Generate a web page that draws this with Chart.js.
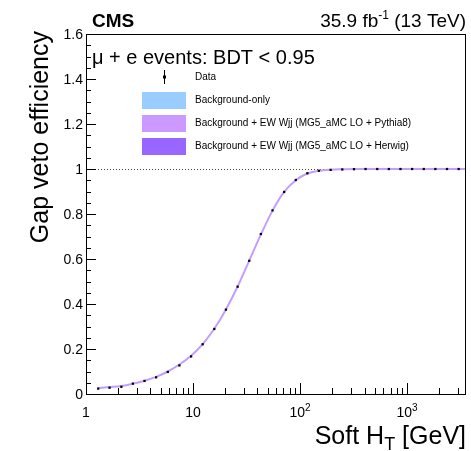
<!DOCTYPE html>
<html>
<head>
<meta charset="utf-8">
<script src="https://cdn.jsdelivr.net/npm/chart.js@4.4.1/dist/chart.umd.min.js"></script>
<style>
  html, body { margin: 0; padding: 0; background: #fff; }
  #chart { display: block; }
</style>
</head>
<body>
<canvas id="chart" width="471" height="451"></canvas>
<script>
// soft HT bin centres [GeV]
var softHT = [1.3, 1.66, 2.14, 2.74, 3.52, 4.52, 5.81, 7.46, 9.59, 12.3, 15.8, 20.3, 26.1, 33.5, 43.0, 55.3,
              71.0, 91.2, 117, 150, 193, 248, 319, 409, 526, 675, 867, 1114, 1431, 1837, 2360, 3031];
// measured gap veto efficiency
var dataEff = [0.024, 0.028, 0.032, 0.046, 0.058, 0.074, 0.098, 0.127, 0.167, 0.221, 0.289, 0.375, 0.477, 0.592, 0.711, 0.816,
               0.898, 0.951, 0.981, 0.992, 0.996, 0.998, 0.999, 1.0, 1.0, 1.0, 1.0, 1.0, 1.0, 1.0, 1.0, 1.0];
// background + EW Wjj prediction (curve)
var modelHT = [1.3, 1.66, 2.14, 2.74, 3.52, 4.52, 5.81, 7.46, 9.59, 12.3, 15.8, 20.3, 26.1, 33.5, 43.0, 55.3,
               71.0, 91.2, 117, 150, 193, 248, 319, 409, 526, 675, 867, 1114, 1431, 1837, 2360, 3031, 3550];
var modelEff = [0.027, 0.031, 0.036, 0.046, 0.059, 0.076, 0.100, 0.131, 0.170, 0.222, 0.290, 0.376, 0.478, 0.593, 0.708, 0.815,
                0.898, 0.950, 0.980, 0.992, 0.997, 0.999, 1.0, 1.0, 1.0, 1.0, 1.0, 1.0, 1.0, 1.0, 1.0, 1.0, 1.0];

var yTickLabels = ['0', '0.2', '0.4', '0.6', '0.8', '1', '1.2', '1.4', '1.6'];
var xTickLabels = [['1', ''], ['10', ''], ['10', '2'], ['10', '3']];
var legendLabels = ['Background-only', 'Background + EW Wjj (MG5_aMC LO + Pythia8)', 'Background + EW Wjj (MG5_aMC LO + Herwig)'];
var legendColours = ['#99ccff', '#cc99ff', '#9966ff'];

var FONT = '"Liberation Sans", Arial, Helvetica, sans-serif';

function pts(xs, ys) {
    var out = [];
    for (var i = 0; i < xs.length; i++) out.push({x: xs[i], y: ys[i]});
    return out;
}

// draws text with a raised or lowered little part, returns width
function drawScript(ctx, parts, x, y, align) {
    var w = 0;
    parts.forEach(function(p) { ctx.font = p.font; w += ctx.measureText(p.t).width; });
    var cx = x;
    if (align == 'right') cx = x - w;
    else if (align == 'center') cx = x - w / 2;
    ctx.textAlign = 'left';
    parts.forEach(function(p) {
        ctx.font = p.font;
        ctx.fillText(p.t, cx, y + (p.dy || 0));
        cx += ctx.measureText(p.t).width;
    });
    return w;
}

var overlay = {
    id: 'overlay',
    beforeDatasetsDraw: function(chart) {
        var ctx = chart.ctx, a = chart.chartArea;
        var y1 = Math.round(chart.scales.y.getPixelForValue(1)) + 0.5;
        ctx.save();
        ctx.strokeStyle = '#444';
        ctx.lineWidth = 1;
        ctx.setLineDash([1, 2]);
        ctx.beginPath();
        ctx.moveTo(a.left, y1);
        ctx.lineTo(a.right, y1);
        ctx.stroke();
        ctx.restore();
    },
    afterDraw: function(chart) {
        var ctx = chart.ctx, a = chart.chartArea;
        var xs = chart.scales.x, ys = chart.scales.y;
        ctx.save();
        ctx.fillStyle = '#000';
        ctx.strokeStyle = '#000';
        ctx.lineWidth = 1;

        // frame
        ctx.strokeRect(a.left + 0.5, a.top + 0.5, a.right - a.left - 1, a.bottom - a.top);

        // y ticks
        ctx.beginPath();
        for (var k = 0; k <= 32; k++) {
            var v = k * 0.05;
            var py = Math.round(ys.getPixelForValue(v)) + 0.5;
            var len = (k % 4 == 0) ? 10 : 5;
            ctx.moveTo(a.left, py);
            ctx.lineTo(a.left + len, py);
        }
        // x ticks
        for (var d = 0; d <= 3; d++) {
            for (var m = 1; m <= 9; m++) {
                var xv = m * Math.pow(10, d);
                if (xv > xs.max) break;
                var px = Math.round(xs.getPixelForValue(xv)) + 0.5;
                var l = (m == 1) ? 11 : 6;
                ctx.moveTo(px, a.bottom);
                ctx.lineTo(px, a.bottom - l);
            }
        }
        ctx.stroke();

        // y tick labels
        ctx.font = '14px ' + FONT;
        ctx.textAlign = 'right';
        ctx.textBaseline = 'middle';
        yTickLabels.forEach(function(t, i) {
            ctx.fillText(t, a.left - 3, ys.getPixelForValue(i * 0.2) + 1);
        });

        // x tick labels
        ctx.textBaseline = 'alphabetic';
        xTickLabels.forEach(function(t, i) {
            var px = xs.getPixelForValue(Math.pow(10, i));
            drawScript(ctx, [{t: t[0], font: '14px ' + FONT}, {t: t[1], font: '10px ' + FONT, dy: -6}], px, 417, 'center');
        });

        // axis titles
        drawScript(ctx, [{t: 'Soft H', font: '25px ' + FONT}, {t: 'T', font: '18px ' + FONT, dy: 6},
                         {t: ' [GeV]', font: '25px ' + FONT}], a.right, 444, 'right');
        ctx.save();
        ctx.translate(48, 31);
        ctx.rotate(-Math.PI / 2);
        ctx.font = '25px ' + FONT;
        ctx.textAlign = 'right';
        ctx.fillText('Gap veto efficiency', 0, 0);
        ctx.restore();

        // header
        ctx.font = 'bold 19px ' + FONT;
        ctx.textAlign = 'left';
        ctx.fillText('CMS', 92, 27);
        drawScript(ctx, [{t: '35.9 fb', font: '19px ' + FONT}, {t: '-1', font: '12px ' + FONT, dy: -8},
                         {t: ' (13 TeV)', font: '19px ' + FONT}], a.right, 27, 'right');

        ctx.font = '20px ' + FONT;
        ctx.textAlign = 'left';
        ctx.fillText('\u03bc + e events: BDT < 0.95', 92, 64);

        // legend
        ctx.font = '10px ' + FONT;
        ctx.textBaseline = 'middle';
        ctx.beginPath();
        ctx.moveTo(164.5, 70);
        ctx.lineTo(164.5, 84);
        ctx.stroke();
        ctx.fillRect(163, 75.5, 3, 3);
        ctx.fillText('Data', 195, 77);
        legendLabels.forEach(function(t, i) {
            var top = 92 + i * 23;
            ctx.fillStyle = legendColours[i];
            ctx.fillRect(142, top, 44, 17);
            ctx.fillStyle = '#000';
            ctx.fillText(t, 195, top + 8.5);
        });
        ctx.restore();
    }
};

new Chart(document.getElementById('chart'), {
    type: 'line',
    data: {
        datasets: [
            {
                label: 'Data',
                data: pts(softHT, dataEff),
                showLine: false,
                pointStyle: 'rect',
                pointRadius: 1.6,
                backgroundColor: '#000',
                borderColor: '#000',
                borderWidth: 0,
                order: 0
            },
            {
                label: legendLabels[1],
                data: pts(modelHT, modelEff),
                borderColor: '#c39dff',
                borderWidth: 2,
                pointRadius: 0,
                cubicInterpolationMode: 'monotone',
                fill: false,
                order: 1
            }
        ]
    },
    options: {
        responsive: false,
        devicePixelRatio: 1,
        animation: false,
        layout: { padding: { left: 86, top: 34, right: 5, bottom: 57 } },
        plugins: { legend: { display: false }, tooltip: { enabled: false } },
        scales: {
            x: { type: 'logarithmic', min: 1, max: 3550, display: false },
            y: { type: 'linear', min: 0, max: 1.6, display: false }
        }
    },
    plugins: [overlay]
});
</script>
</body>
</html>
